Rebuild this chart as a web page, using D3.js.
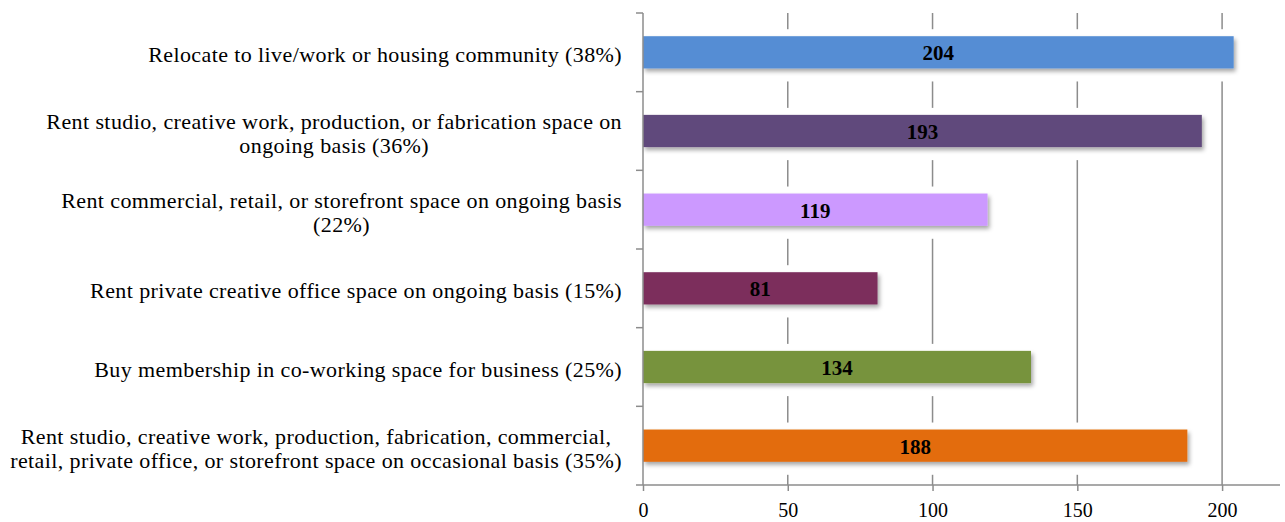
<!DOCTYPE html>
<html>
<head>
<meta charset="utf-8">
<script src="https://cdn.jsdelivr.net/npm/d3@7"></script>
<style>
  html, body { margin: 0; padding: 0; background: #fff; }
  svg { display: block; }
  text { font-family: "Liberation Serif", "Times New Roman", serif; }
</style>
</head>
<body>
<svg id="chart" width="1285" height="522"></svg>
<script>
const categories = [
  ["Relocate to live/work or housing community (38%)"],
  ["Rent studio, creative work, production, or fabrication space on", "ongoing basis (36%)"],
  ["Rent commercial, retail, or storefront space on ongoing basis", "(22%)"],
  ["Rent private creative office space on ongoing basis (15%)"],
  ["Buy membership in co-working space for business (25%)"],
  ["Rent studio, creative work, production, fabrication, commercial,", "retail, private office, or storefront space on occasional basis (35%)"]
];
const values = [204, 193, 119, 81, 134, 188];
const colors = ["#548DD4", "#604A7B", "#CC99FF", "#7B2E5C", "#77933C", "#E36C0A"];
const xTicks = [0, 50, 100, 150, 200];

const svg = d3.select("#chart");
const mLeft = 643, mRight = 1280, mTop = 13, mBottom = 485;
const x = d3.scaleLinear().domain([0, 220]).range([mLeft, mRight]);
const y = d3.scaleBand().domain(d3.range(categories.length)).range([mTop, mBottom]).paddingInner(0.59).paddingOuter(0.295);
const yb = d3.scaleBand().domain(d3.range(categories.length)).range([mTop, mBottom]);

const defs = svg.append("defs");
const f = defs.append("filter").attr("id", "sh").attr("x", "-5%").attr("y", "-50%").attr("width", "110%").attr("height", "250%");
f.append("feDropShadow").attr("dx", 2).attr("dy", 3).attr("stdDeviation", 2).attr("flood-color", "#000").attr("flood-opacity", 0.35);

// gridlines
svg.append("g").selectAll("line").data(xTicks.slice(1)).join("line")
  .attr("x1", d => x(d)).attr("x2", d => x(d))
  .attr("y1", mTop).attr("y2", mBottom)
  .attr("stroke", "#8c8c8c").attr("stroke-width", 1.5);

// white halo behind bars
svg.append("g").selectAll("rect").data(values).join("rect")
  .attr("x", x(0) + 1).attr("y", (d, i) => y(i) - 7)
  .attr("width", d => x(d) - x(0) + 6).attr("height", y.bandwidth() + 20)
  .attr("fill", "#fff");

// bars
svg.append("g").selectAll("rect").data(values).join("rect")
  .attr("x", x(0)).attr("y", (d, i) => y(i))
  .attr("width", d => x(d) - x(0)).attr("height", y.bandwidth())
  .attr("fill", (d, i) => colors[i]).attr("filter", "url(#sh)");

// value labels
svg.append("g").selectAll("text").data(values).join("text")
  .attr("x", d => (x(0) + x(d)) / 2).attr("y", (d, i) => y(i) + y.bandwidth() / 2 + 8)
  .attr("text-anchor", "middle").attr("font-weight", "bold").attr("font-size", 21)
  .attr("fill", "#000").text(d => d);

// x axis
const xa = svg.append("g").attr("transform", `translate(0,${mBottom})`)
  .call(d3.axisBottom(x).tickValues(xTicks).tickSize(6).tickPadding(12).tickFormat(d3.format("d")));
xa.select(".domain").attr("d", `M${mLeft - 7},0H${mRight}`).attr("stroke", "#8c8c8c").attr("stroke-width", 1.5);
xa.selectAll(".tick line").attr("stroke", "#8c8c8c").attr("stroke-width", 1.5);
xa.selectAll(".tick text").attr("font-size", 20).attr("font-family", "Liberation Serif").attr("fill", "#000");

// y axis
svg.append("line").attr("x1", mLeft).attr("x2", mLeft).attr("y1", mTop).attr("y2", mBottom)
  .attr("stroke", "#8c8c8c").attr("stroke-width", 1.5);
svg.append("g").selectAll("line").data(d3.range(categories.length)).join("line")
  .attr("x1", mLeft - 7).attr("x2", mLeft).attr("y1", i => yb(i)).attr("y2", i => yb(i))
  .attr("stroke", "#8c8c8c").attr("stroke-width", 1.5);

// category labels
const labelRight = 622, lh = 24;
categories.forEach((lines, i) => {
  const g = svg.append("g");
  const cy = yb(i) + yb.bandwidth() / 2;
  const ts = lines.map((t, j) => g.append("text")
    .attr("y", cy + 10 + (j - (lines.length - 1) / 2) * lh)
    .attr("font-size", 22).attr("letter-spacing", 0.4).attr("fill", "#000").text(t));
  const w = d3.max(ts, t => t.node().getComputedTextLength());
  ts.forEach(t => t.attr("x", labelRight - w / 2).attr("text-anchor", "middle"));
});
</script>
</body>
</html>
